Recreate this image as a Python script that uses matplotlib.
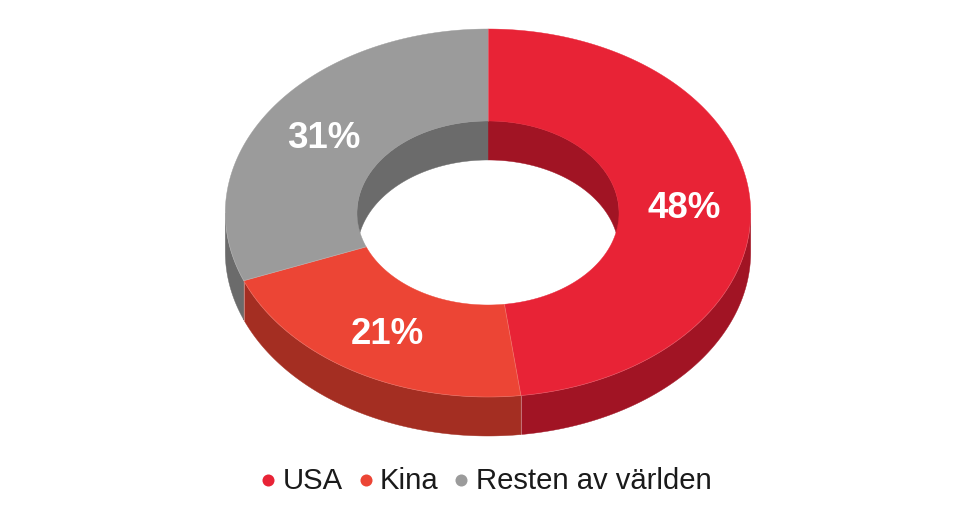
import numpy as np
import matplotlib
matplotlib.use("Agg")
import matplotlib.pyplot as plt

# data
kategorier = ["USA", "Kina", "Resten av världen"]
andelar = [48, 21, 31]
farger = ["#E82336", "#EC4535", "#9B9B9B"]
morka_farger = ["#A11424", "#A42E22", "#6B6B6B"]
etiketter_pos = [(684, 205), (387, 332), (324, 135)]
legend_punkt_x = [268, 365.5, 461]
legend_text_x = [283, 380, 476.5]

# geometri i pixlar
CX, CY = 488, 213
RX, RY = 262.7, 184
RX_IN, RY_IN = 131, 92
DJUP = 39
SOM = "#FFFFFF"

plt.rcParams["font.family"] = ["Liberation Sans", "DejaVu Sans"]

fig = plt.figure(figsize=(9.76, 5.18), dpi=100)
ax = fig.add_axes([0, 0, 1, 1])
ax.set_xlim(0, 976)
ax.set_ylim(518, 0)
ax.axis("off")


def ellips(grader, rx, ry, dy=0):
    t = np.radians(grader)
    return CX + rx * np.sin(t), CY - ry * np.cos(t) + dy


granser = np.cumsum([0] + andelar) * 3.6

for i in range(len(andelar)):
    a, b = granser[i], granser[i + 1]

    # yttre vagg, bara framsidan syns
    s, e = max(a, 90), min(b, 270)
    if s < e:
        g = np.linspace(s, e, 200)
        x1, y1 = ellips(g, RX, RY)
        x2, y2 = ellips(g[::-1], RX, RY, DJUP)
        ax.fill(np.r_[x1, x2], np.r_[y1, y2], color=morka_farger[i], lw=0.3, zorder=1)
        # ljus fog mellan bitarna
        for v in (s, e):
            if v not in (90, 270):
                xf, yf = ellips(v, RX, RY)
                ax.plot([xf, xf], [yf, yf + DJUP], color=SOM, alpha=0.25, lw=0.6, zorder=2)

    # inre vagg, bara baksidan syns
    for s, e in [(max(a, 0), min(b, 90)), (max(a, 270), min(b, 360))]:
        if s < e:
            g = np.linspace(s, e, 200)
            x1, y1 = ellips(g, RX_IN, RY_IN)
            x2, y2 = ellips(g[::-1], RX_IN, RY_IN, DJUP)
            ax.fill(np.r_[x1, x2], np.r_[y1, y2], color=morka_farger[i], lw=0.3, zorder=2)

    # ovansidan
    g = np.linspace(a, b, 300)
    x1, y1 = ellips(g, RX, RY)
    x2, y2 = ellips(g[::-1], RX_IN, RY_IN)
    ax.fill(np.r_[x1, x2], np.r_[y1, y2], color=farger[i], lw=0.3, zorder=3)
    ax.plot(np.r_[x2[-1], x1[0]], np.r_[y2[-1], y1[0]], color=SOM, alpha=0.2, lw=0.6, zorder=3.5)

    ax.text(etiketter_pos[i][0], etiketter_pos[i][1] + 3, f"{andelar[i]}%", color="white",
            fontsize=26.4, fontweight="bold", ha="center", va="center", zorder=4)

    # legend
    ax.scatter(legend_punkt_x[i], 480, s=75, color=farger[i], lw=0, zorder=4)
    ax.text(legend_text_x[i], 481, kategorier[i], color="#1A1A1A", fontsize=21.1,
            ha="left", va="center", zorder=4)

# ljus kant dar ovansidan moter den yttre vaggen
g = np.linspace(90, 270, 300)
xk, yk = ellips(g, RX, RY)
ax.plot(xk, yk, color=SOM, alpha=0.2, lw=0.5, zorder=3.5)

fig.savefig("out.png", dpi=100, facecolor="white")
